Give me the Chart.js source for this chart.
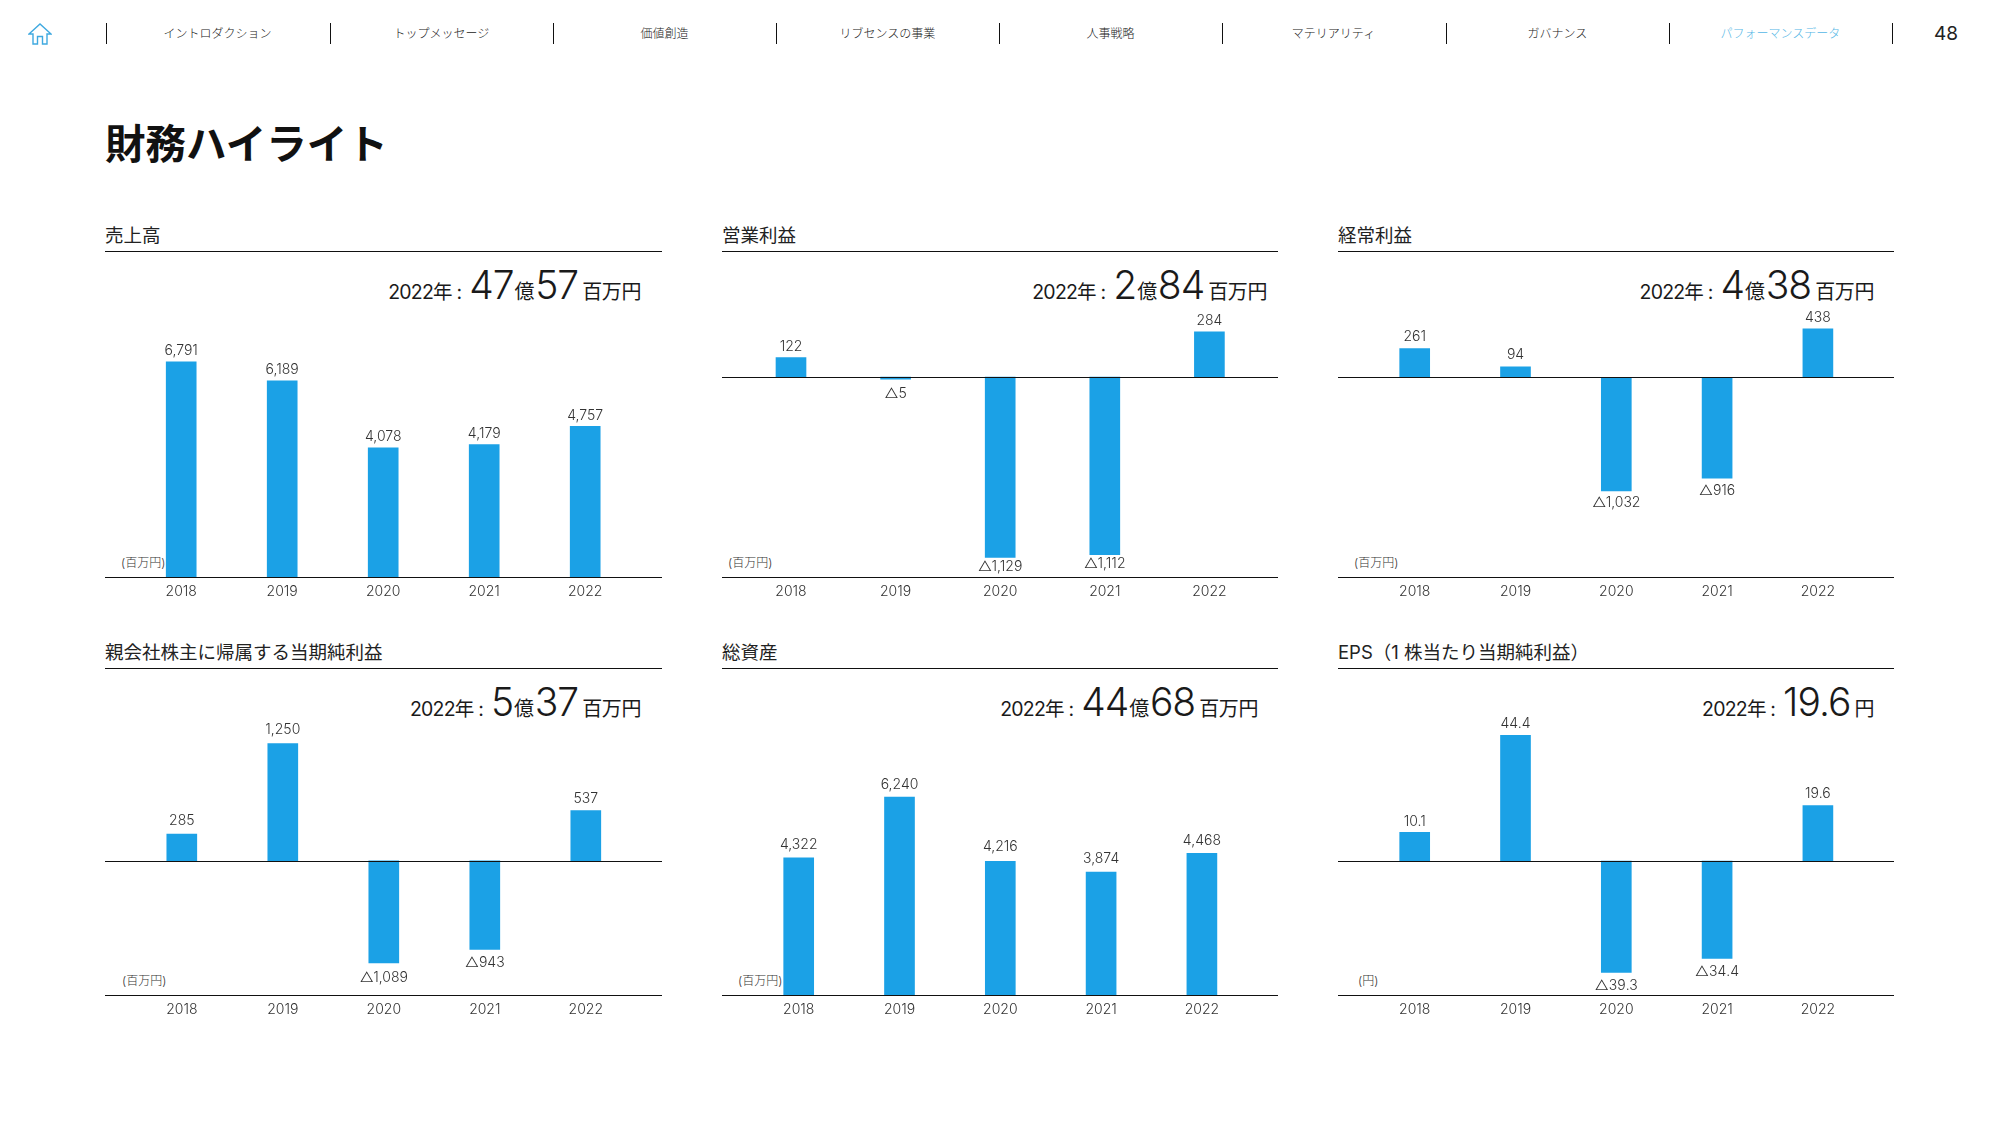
<!DOCTYPE html>
<html lang="ja">
<head>
<meta charset="utf-8">
<title>財務ハイライト</title>
<script src="https://cdn.jsdelivr.net/npm/chart.js@4"></script>
<style>
html, body { margin: 0; padding: 0; background: #fff; }
body { position: relative; width: 2000px; height: 1125px; overflow: hidden; color: #1a1a1a;
  font-family: Inter, "Noto Sans CJK JP", sans-serif; font-weight: 300; }
.abs { position: absolute; white-space: nowrap; }
.nav { top: 24px; font-size: 12px; line-height: 18px; width: 223px; text-align: center; color: #222;
  font-family: "Noto Sans CJK JP"; font-weight: 300; }
.sep { top: 23px; width: 1px; height: 21px; background: #111; }
.ptitle { font-size: 18.5px; line-height: 24px; font-family: Inter, "Noto Sans CJK JP"; font-weight: 400; color: #222; }
.prule { height: 1px; background: #111; }
.kpi { font-size: 20px; line-height: 50px; text-align: right; font-family: Inter, "Noto Sans CJK JP"; font-weight: 400; letter-spacing: -0.4px; }
.kpi span { font-size: 19.5px; letter-spacing: -0.8px; margin-right: 7px; }
.kpi b { font-size: 39px; font-weight: 300; letter-spacing: -1px; margin: 0 1px; }
.kpi i { font-style: normal; margin-left: 3px; font-size: 20px; }
.unit { font-size: 12px; line-height: 16px; color: #333; font-family: Inter, "Noto Sans CJK JP"; }
canvas { position: absolute; }
</style>
</head>
<body>
<script>
// データ
const years = ['2018', '2019', '2020', '2021', '2022']
const sales = [6791, 6189, 4078, 4179, 4757]
const operatingProfit = [122, -5, -1129, -1112, 284]
const ordinaryProfit = [261, 94, -1032, -916, 438]
const netProfit = [285, 1250, -1089, -943, 537]
const totalAssets = [4322, 6240, 4216, 3874, 4468]
const eps = [10.1, 44.4, -39.3, -34.4, 19.6]

const navLabels = ['イントロダクション', 'トップメッセージ', '価値創造', 'リブセンスの事業', '人事戦略', 'マテリアリティ', 'ガバナンス', 'パフォーマンスデータ']
const panelTitles = ['売上高', '営業利益', '経常利益', '親会社株主に帰属する当期純利益', '総資産', 'EPS（1 株当たり当期純利益）']
const kpiTexts = ['47億57百万円', '2億84百万円', '4億38百万円', '5億37百万円', '44億68百万円', '19.6円']
const units = ['(百万円)', '(百万円)', '(百万円)', '(百万円)', '(百万円)', '(円)']
const seriesList = [sales, operatingProfit, ordinaryProfit, netProfit, totalAssets, eps]

// スケール
const yMins = [0, -1252, -1813, -1430, 0, -47.3]
const yMaxs = [9685, 671, 973, 1843, 9675, 61.1]

// レイアウト
const ruleLefts = [105, 722, 1338, 105, 722, 1338]
const ruleRights = [662, 1278, 1894, 662, 1278, 1894]
const plotLefts = [130.7, 738.7, 1364.3, 131.3, 748.3, 1364.3]
const plotRights = [635.7, 1261.7, 1868.3, 636.3, 1252.3, 1868.3]
const kpiRights = [641, 1267, 1874, 641, 1258, 1874]
const unitLefts = [121, 728, 1354, 122, 738, 1358]
const rowTops = [270, 270, 270, 688, 688, 688]
const rowShift = [0, 0, 0, 417, 417, 417]
const unitTops = [555, 555, 555, 973, 973, 973]

// ラベルの微調整 (px)
const labelNudges = [
	[1, 1, 1, 1, 2],
	[1, 3, -3, -3, 1],
	[0, 0, 0, 1, 1],
	[-1, -2, 3, 1, 0],
	[-1, 0, -2, -1, 0],
	[1, 1, 1, 1, 0]
]

const blue = '#1ba1e6'
const sepXs = [106, 330, 553, 776, 999, 1222, 1446, 1669, 1892]

function addText(cls, text, left, top, extra) {
	let el = document.createElement('div')
	el.className = 'abs ' + cls
	el.textContent = text
	el.style.left = left + 'px'
	el.style.top = top + 'px'
	if (extra) Object.assign(el.style, extra)
	document.body.appendChild(el)
	return el
}

// ヘッダー
document.body.insertAdjacentHTML('beforeend',
	'<svg class="abs" style="left:28px;top:23px" width="24" height="22" viewBox="0 0 24 22" fill="none" stroke="#3fa9e0" stroke-width="1.4">' +
	'<path d="M1 11 L12 1 L23 11 H19 V21 H14.5 V13.5 H9.5 V21 H5 V11 Z"/></svg>')
sepXs.forEach(x => addText('sep', '', x, 23))
navLabels.forEach((t, i) => {
	addText('nav', t, sepXs[i], 24, i == 7 ? { color: '#55b7e6' } : null)
})
addText('', '48', 1934, 22, { fontSize: '19px', lineHeight: '24px', color: '#222', fontWeight: 400 })
addText('', '財務ハイライト', 105, 112, { fontSize: '40.5px', lineHeight: '60px', fontFamily: '"Noto Sans CJK JP"', fontWeight: 700, color: '#111' })

function formatValue(v, idx) {
	let abs = Math.abs(v)
	let s = idx == 5 ? abs.toFixed(1) : abs.toLocaleString('en-US')
	return v < 0 ? '△' + s : s
}

// 罫線とデータラベル
const panelPlugin = {
	id: 'panelPlugin',
	afterDatasetsDraw(chart) {
		let ctx = chart.ctx
		let y = chart.scales.y
		let idx = chart.options.panelIndex
		ctx.save()
		ctx.fillStyle = '#111'
		ctx.fillRect(0, Math.round(y.getPixelForValue(y.min)), chart.width, 1)
		if (y.min < 0) ctx.fillRect(0, Math.round(y.getPixelForValue(0)), chart.width, 1)
		ctx.font = '300 14px Inter, "Noto Sans CJK JP"'
		ctx.fillStyle = '#333'
		ctx.textAlign = 'center'
		ctx.textBaseline = 'middle'
		chart.getDatasetMeta(0).data.forEach((bar, i) => {
			let v = chart.data.datasets[0].data[i]
			let offset = v < 0 ? 12 : -12
			ctx.fillText(formatValue(v, idx), bar.x, bar.y + offset + labelNudges[idx][i])
		})
		ctx.restore()
	}
}

seriesList.forEach((values, i) => {
	let left = ruleLefts[i]
	let width = ruleRights[i] - left
	let shift = rowShift[i]

	addText('ptitle', panelTitles[i], left, 223 + shift)
	addText('prule', '', left, 251 + shift, { width: width + 'px' })

	let kpi = addText('kpi', '', 0, 260 + shift)
	kpi.innerHTML = '<span>2022年 :</span>' + kpiTexts[i].replace(/[\d.]+/g, m => '<b>' + m + '</b>').replace(/(百万円|円)$/, '<i>$1</i>')
	kpi.style.left = 'auto'
	kpi.style.right = (2000 - kpiRights[i]) + 'px'

	addText('unit', units[i], unitLefts[i], unitTops[i])

	let canvas = document.createElement('canvas')
	canvas.width = width
	canvas.height = 340
	canvas.style.left = left + 'px'
	canvas.style.top = rowTops[i] + 'px'
	document.body.appendChild(canvas)

	new Chart(canvas.getContext('2d'), {
		type: 'bar',
		data: {
			labels: years,
			datasets: [{ data: values, backgroundColor: blue, barThickness: 30, minBarLength: 2 }]
		},
		options: {
			panelIndex: i,
			responsive: false,
			animation: false,
			layout: { padding: { left: plotLefts[i] - left, right: ruleRights[i] - plotRights[i], top: 0, bottom: 0 } },
			plugins: { legend: { display: false }, tooltip: { enabled: false } },
			scales: {
				x: {
					grid: { display: false },
					border: { display: false },
					afterFit(scale) { scale.height = 33 },
					ticks: {
						autoSkip: false, maxRotation: 0, padding: -2,
						color: '#333',
						font: { family: 'Inter', size: 14, weight: 300 }
					}
				},
				y: { display: false, min: yMins[i], max: yMaxs[i] }
			}
		},
		plugins: [panelPlugin]
	})
})
</script>
</body>
</html>
